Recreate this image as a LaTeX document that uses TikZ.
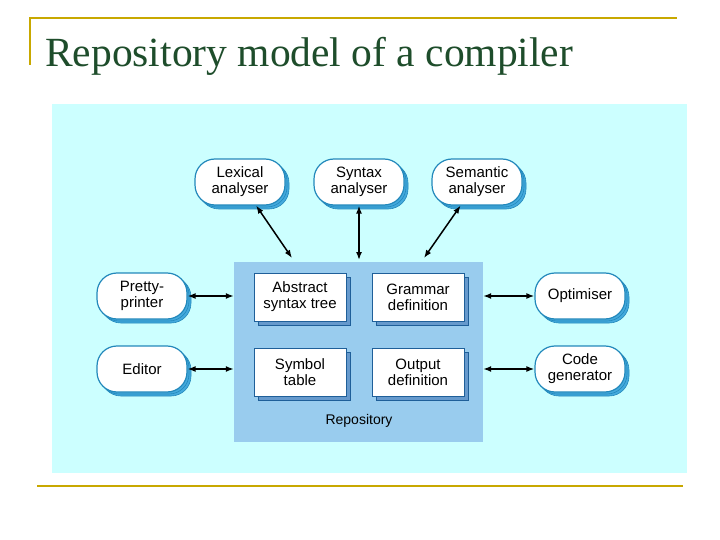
\documentclass[tikz,border=0pt]{standalone}
\usepackage{fontspec}
\setmainfont{Liberation Sans}
\newfontfamily\titlefont{Liberation Serif}
\usetikzlibrary{shadows,arrows.meta}
\begin{document}
\begin{tikzpicture}[x=1pt,y=-1pt,
  pill/.style={draw=pillb,line width=1.2pt,fill=white,rounded corners=20pt,minimum width=90pt,minimum height=46pt,align=center,font=\fontsize{15}{16}\selectfont,
    double copy shadow={shadow xshift=2pt,shadow yshift=-2pt,draw=pillb,fill=shad,line width=0.6pt}},
  box/.style={draw=boxb,line width=1pt,fill=white,minimum width=92pt,minimum height=48pt,align=center,font=\fontsize{15}{16}\selectfont,
    copy shadow={shadow xshift=4pt,shadow yshift=-4pt,draw=boxb,fill=boxsh}},
  arr/.style={{Latex[length=8pt,width=6pt]}-{Latex[length=8pt,width=6pt]},line width=1.5pt}]
\definecolor{bgc}{HTML}{CCFFFF}
\definecolor{repo}{HTML}{99CCEE}
\definecolor{pillb}{HTML}{2288BB}
\definecolor{shad}{HTML}{44AADD}
\definecolor{boxb}{HTML}{1F5F99}
\definecolor{boxsh}{HTML}{6699CC}
\definecolor{gold}{HTML}{C8A800}
\definecolor{tgreen}{HTML}{1E4D2B}
\useasboundingbox (0,0) rectangle (720,540);
\fill[white] (0,0) rectangle (720,540);
\draw[gold,line width=1.5pt] (30,65) -- (30,18) -- (677,18);
\draw[gold,line width=1.5pt] (37,486) -- (683,486);
\node[anchor=base west,font=\titlefont\fontsize{41.5}{44}\selectfont,text=tgreen,inner sep=0] (title) at (45,67) {Repository model of a compiler};
\fill[bgc] (52,104) rectangle (687,473);
\node[fill=repo,minimum width=249pt,minimum height=180pt,inner sep=0] (repo) at (358.5,352) {};
\node[font=\fontsize{14}{15}\selectfont] (rl) at (359,421) {Repository};
\node[box] (ast) at (300,297) {Abstract\\syntax tree};
\node[box] (gd) at (418,297) {Grammar\\definition};
\node[box] (st) at (300,372) {Symbol\\table};
\node[box] (od) at (418,372) {Output\\definition};
\node[pill] (lex) at (240,182) {Lexical\\analyser};
\node[pill] (syn) at (359,182) {Syntax\\analyser};
\node[pill] (sem) at (477,182) {Semantic\\analyser};
\node[pill] (pp) at (142,296) {Pretty-\\printer};
\node[pill] (ed) at (142,369) {Editor};
\node[pill] (opt) at (580,296) {Optimiser};
\node[pill] (cg) at (580,369) {Code\\generator};
\draw[arr] (lex) -- (292,258);
\draw[arr] (syn) -- (359,260);
\draw[arr] (sem) -- (424,258);
\draw[arr] (pp) -- (repo.west |- pp);
\draw[arr] (ed) -- (repo.west |- ed);
\draw[arr] (opt) -- (repo.east |- opt);
\draw[arr] (cg) -- (repo.east |- cg);
\end{tikzpicture}
\end{document}
